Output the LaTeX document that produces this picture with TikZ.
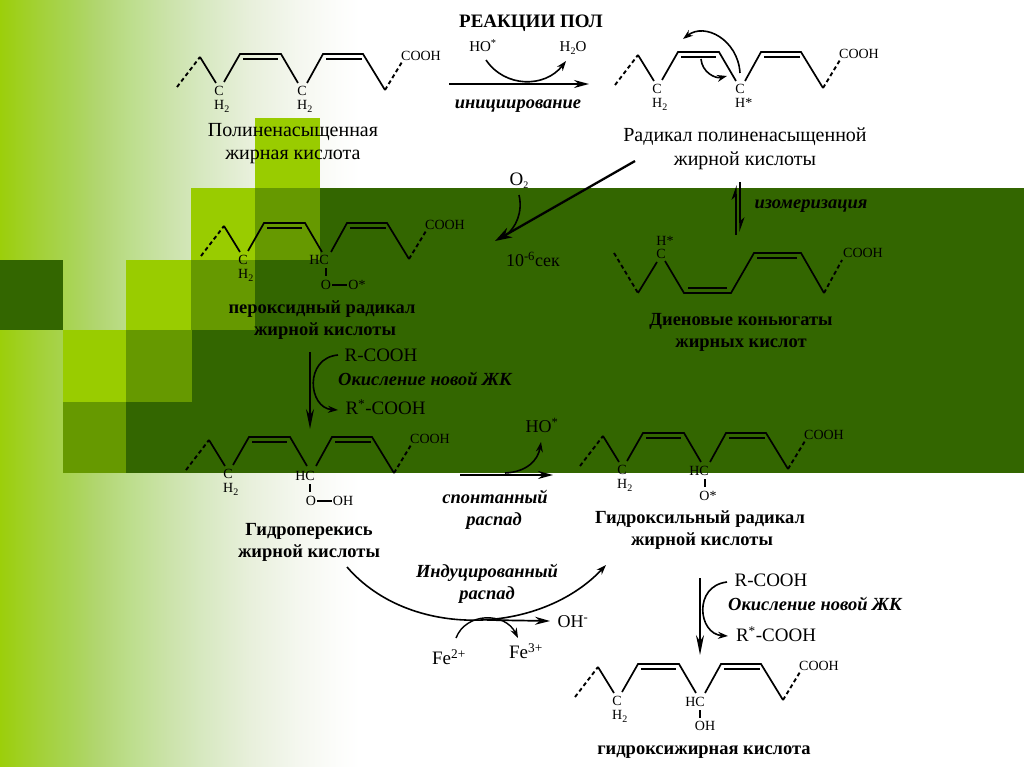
\documentclass[tikz,border=0pt]{standalone}
\usepackage{fontspec}
\setmainfont{Liberation Serif}
\usetikzlibrary{arrows.meta}
\definecolor{lime}{HTML}{99CC00}
\definecolor{midg}{HTML}{669900}
\definecolor{darkg}{HTML}{336600}
\pgfdeclarehorizontalshading{bgfade}{100bp}{%
 rgb(0bp)=(0.61,0.81,0.04);
 rgb(25bp)=(0.61,0.81,0.04);
 rgb(30.56bp)=(0.64,0.82,0.22);
 rgb(34.72bp)=(0.66,0.83,0.33);
 rgb(38.89bp)=(0.70,0.84,0.45);
 rgb(43.06bp)=(0.74,0.87,0.55);
 rgb(48.61bp)=(0.80,0.89,0.67);
 rgb(52.78bp)=(0.84,0.91,0.75);
 rgb(59.72bp)=(0.91,0.94,0.86);
 rgb(66.67bp)=(0.96,0.97,0.94);
 rgb(72.22bp)=(0.99,0.993,0.985);
 rgb(75bp)=(1,1,1);
 rgb(100bp)=(1,1,1)}
\newcommand{\sbs}[1]{\raisebox{-3pt}{\fontsize{10}{10}\selectfont #1}}
\tikzset{
 lab/.style={inner sep=0pt,font=\fontsize{#1}{#1}\selectfont,text height={#1*0.66pt},text depth=0pt},
 lab/.default=14,
 rm/.style={inner sep=0pt,font=\fontsize{#1}{#1}\selectfont,text height={#1*0.78pt},text depth={#1*0.1pt}},
 bd/.style={inner sep=0pt,font=\fontsize{#1}{#1}\selectfont\bfseries,text height={#1*0.78pt},text depth={#1*0.1pt}},
 it/.style={inner sep=0pt,font=\fontsize{#1}{#1}\selectfont\bfseries\itshape,text height={#1*0.78pt},text depth={#1*0.1pt}},
 bond/.style={line width=1.7pt,line join=miter},
 inner bond/.style={line width=1.4pt},
 tail/.style={line width=1.9pt,dash pattern=on 4pt off 3pt},
 short/.style={line width=1.2pt,shorten >=1pt,shorten <=1pt},
 rxn/.style={line width=1.7pt,-{Stealth[length=15pt,width=8pt]}},
 curv/.style={line width=1.6pt,-{Stealth[length=10pt,width=7pt]}},
}
\newcommand{\fattychain}[3]{%
 \begin{scope}[shift={(#2,#3)}]
  \coordinate (#1s) at (-23,30);
  \coordinate (#1a) at (0,0);
  \coordinate (#1b) at (16,26);
  \coordinate (#1c) at (24,25);
  \coordinate (#1d) at (40,-3);
  \coordinate (#1e) at (81,-3);
  \coordinate (#1f) at (98,26);
  \coordinate (#1g) at (107,26);
  \coordinate (#1h) at (123,-3);
  \coordinate (#1i) at (163,-3);
  \coordinate (#1j) at (185,33);
  \coordinate (#1k) at (202,5);
  \coordinate (#1m) at (43,2);
  \coordinate (#1n) at (78,2);
  \coordinate (#1o) at (126,2);
  \coordinate (#1q) at (162,2);
  \draw[tail] (#1s) -- (#1a);
  \draw[bond] (#1a) -- (#1b);
  \draw[bond] (#1c) -- (#1d) -- (#1e) -- (#1f);
  \draw[bond] (#1g) -- (#1h) -- (#1i) -- (#1j);
  \draw[tail] (#1j) -- (#1k);
  \draw[inner bond] (#1m) -- (#1n);
  \draw[inner bond] (#1o) -- (#1q);
  \node[lab] (#1cooh) at (221,-1) {COOH};
  \node[lab] (#1c1) at (19,34) {C};
  \node[lab,anchor=west] (#1h1) at (14,48) {H\sbs{2}};
 \end{scope}}
\begin{document}
\begin{tikzpicture}[x=1pt,y=-1pt]
\useasboundingbox (0,0) rectangle (1024,767);
% background
\fill[white] (0,0) rectangle (1024,767);
\shade[shading=bgfade] (0,0) rectangle (360,767);
\fill[lime] (255,118) rectangle (320,188);
\fill[lime] (191,188) rectangle (255,260);
\fill[midg] (255,188) rectangle (320,260);
\fill[darkg] (320,188) rectangle (1024,473);
\fill[darkg] (0,260) rectangle (63,330);
\fill[lime] (126,260) rectangle (191,330);
\fill[midg] (191,260) rectangle (255,330);
\fill[darkg] (255,260) rectangle (320.5,330);
\fill[lime] (63,330) rectangle (126,402);
\fill[midg] (126,330) rectangle (192,402);
\fill[darkg] (192,330) rectangle (320.5,402);
\fill[midg] (63,402) rectangle (126,473);
\fill[darkg] (126,402) rectangle (320.5,473);
% title
\node[bd=19] (title) at (531,21) {РЕАКЦИИ ПОЛ};
% molecule 1
\fattychain{A}{200}{57}
\node[lab] (A2) at (302,91) {C};
\node[lab,anchor=west] (A3) at (297,105) {H\sbs{2}};
\node[rm=20] (An1) at (293,130) {Полиненасыщенная};
\node[rm=20] (An2) at (293,153) {жирная кислота};
% initiation
\node[lab=15] (ho1) at (483,47) {HO\textsuperscript{*}};
\node[lab=15] (hho) at (573,47) {H\sbs{2}O};
\coordinate (i1) at (449,84);
\coordinate (i2) at (589,84);
\draw[rxn] (i1) -- (i2);
\coordinate (c1a) at (486,60);
\coordinate (c1b) at (566,61);
\coordinate (c1c) at (505,88);
\coordinate (c1d) at (545,88);
\draw[curv] (c1a) .. controls (c1c) and (c1d) .. (c1b);
\node[it=18.5] (init) at (518,102) {инициирование};
% molecule 2
\fattychain{B}{638}{55}
\node[lab] (B2) at (740,89) {C};
\node[lab,anchor=west] (B3) at (735,103) {H*};
\coordinate (b1) at (740,73);
\coordinate (b2) at (683,39);
\coordinate (b3) at (738,40);
\coordinate (b4) at (705,22);
\draw[curv] (b1) .. controls (b3) and (b4) .. (b2);
\coordinate (b5) at (701,59);
\coordinate (b6) at (727,76);
\coordinate (b7) at (702,72);
\coordinate (b8) at (715,79);
\draw[curv] (b5) .. controls (b7) and (b8) .. (b6);
\node[rm=20] (Bn1) at (745,135) {Радикал полиненасыщенной};
\node[rm=20] (Bn2) at (745,159) {жирной кислоты};
% to molecule 3
\coordinate (l1) at (635,161);
\coordinate (l2) at (495,241);
\draw[line width=2.3pt,-{Stealth[length=17pt,width=11pt]}] (l1) -- (l2);
\node[lab=19] (o2) at (519,179) {O\sbs{2}};
\coordinate (q1) at (519,195);
\coordinate (q2) at (505,236);
\coordinate (q3) at (523,212);
\coordinate (q4) at (516,228);
\draw[line width=1.6pt] (q1) .. controls (q3) and (q4) .. (q2);
\node[lab=18] (sec) at (533,261) {10\textsuperscript{-6}сек};
% isomerisation
\coordinate (e1) at (736,235);
\coordinate (e2) at (736,185);
\coordinate (e3) at (740,182);
\coordinate (e4) at (740,232);
\draw[line width=1.3pt,-{Stealth[left,length=13pt,width=9pt]}] (e1) -- (e2);
\draw[line width=1.3pt,-{Stealth[left,length=13pt,width=9pt]}] (e3) -- (e4);
\node[it=18.5] (iso) at (811,202) {изомеризация};
% diene
\coordinate (Da) at (614,253);
\coordinate (Db) at (638,293);
\coordinate (Dc) at (657,262);
\coordinate (Dd) at (665,261);
\coordinate (De) at (684,293);
\coordinate (Df) at (731,293);
\coordinate (Dg) at (754,253);
\coordinate (Dh) at (801,253);
\coordinate (Di) at (824,293);
\coordinate (Dj) at (842,260);
\coordinate (Dk) at (688,288);
\coordinate (Dl) at (727,288);
\coordinate (Dm) at (757,258);
\coordinate (Dn) at (797,258);
\draw[tail] (Da) -- (Db);
\draw[bond] (Db) -- (Dc);
\draw[bond] (Dd) -- (De) -- (Df) -- (Dg) -- (Dh) -- (Di);
\draw[tail] (Di) -- (Dj);
\draw[inner bond] (Dk) -- (Dl);
\draw[inner bond] (Dm) -- (Dn);
\node[lab] (Dc1) at (661,254) {C};
\node[lab] (Dh1) at (665,241) {H*};
\node[lab] (Dcooh) at (863,253) {COOH};
\node[bd=18.5] (Dn1) at (741,319) {Диеновые коньюгаты};
\node[bd=18.5] (Dn2) at (741,341) {жирных кислот};
% molecule 3
\fattychain{C}{224}{226}
\node[lab] (C2) at (319,260) {HC};
\node[lab] (C3) at (326,285) {O};
\node[lab] (C4) at (357,285) {O*};
\coordinate (Cv1) at (326,267);
\coordinate (Cv2) at (326,277);
\draw[short] (Cv1) -- (Cv2);
\draw[short] (C3) -- (C4);
\node[bd=18.5] (Cn1) at (322,307) {пероксидный радикал};
\node[bd=18.5] (Cn2) at (325,329) {жирной кислоты};
% step to hydroperoxide
\coordinate (v1) at (310,352);
\coordinate (v2) at (310,429);
\draw[rxn,-{Stealth[length=20pt,width=8pt]}] (v1) -- (v2);
\node[lab=19] (R1) at (381,355) {R-COOH};
\node[it=18.5] (ox1) at (425,379) {Окисление новой ЖК};
\node[lab=19] (R2) at (385.5,408) {R\textsuperscript{*}-COOH};
\coordinate (w1) at (338,355);
\coordinate (w2) at (338,410);
\coordinate (w3) at (304,358);
\coordinate (w4) at (308,408);
\draw[curv] (w1) .. controls (w3) and (w4) .. (w2);
% molecule 4
\fattychain{E}{209}{440}
\node[lab] (E2) at (305,476) {HC};
\node[lab] (E3) at (311,501) {O};
\node[lab] (E4) at (343,501) {OH};
\coordinate (Ev1) at (310,483);
\coordinate (Ev2) at (310,493);
\draw[short] (Ev1) -- (Ev2);
\draw[short] (E3) -- (E4);
\node[bd=18.5] (En1) at (309,529) {Гидроперекись};
\node[bd=18.5] (En2) at (309,551) {жирной кислоты};
% spontaneous
\coordinate (s1) at (460,475);
\coordinate (s2) at (553,475);
\draw[rxn] (s1) -- (s2);
\node[lab=18] (ho2) at (542,427) {HO\textsuperscript{*}};
\coordinate (s3) at (505,473);
\coordinate (s4) at (541,442);
\coordinate (s5) at (527,472);
\coordinate (s6) at (538,460);
\draw[curv] (s3) .. controls (s5) and (s6) .. (s4);
\node[it=18.5] (sp1) at (495,497) {спонтанный};
\node[it=18.5] (sp2) at (494,519) {распад};
% molecule 5
\fattychain{F}{603}{436}
\node[lab] (F2) at (699,471) {HC};
\node[lab] (F3) at (708,496) {O*};
\coordinate (Fv1) at (705,478);
\coordinate (Fv2) at (705,488);
\draw[short] (Fv1) -- (Fv2);
\node[bd=18.5] (Fn1) at (700,517) {Гидроксильный радикал};
\node[bd=18.5] (Fn2) at (702,539) {жирной кислоты};
% induced decay
\coordinate (d1) at (347,567);
\coordinate (d2) at (606,565);
\coordinate (d3) at (410,640);
\coordinate (d4) at (540,635);
\draw[curv] (d1) .. controls (d3) and (d4) .. (d2);
\node[it=18.5] (ind1) at (487,571) {Индуцированный};
\node[it=18.5] (ind2) at (487,593) {распад};
\coordinate (g1) at (487,620);
\coordinate (g2) at (550,621);
\draw[rxn] (g1) -- (g2);
\node[lab=18] (oh) at (573,622) {OH\textsuperscript{-}};
\node[lab=19] (fe2) at (449,658) {Fe\textsuperscript{2+}};
\node[lab=19] (fe3) at (526,652) {Fe\textsuperscript{3+}};
\coordinate (g3) at (456,638);
\coordinate (g4) at (518,638);
\coordinate (g5) at (466,612);
\coordinate (g6) at (505,612);
\draw[curv,line width=1.4pt] (g3) .. controls (g5) and (g6) .. (g4);
% step to final
\coordinate (h1) at (700,578);
\coordinate (h2) at (700,655);
\draw[rxn,-{Stealth[length=20pt,width=8pt]}] (h1) -- (h2);
\node[lab=19] (R3) at (771,580) {R-COOH};
\node[it=18.5] (ox2) at (815,604) {Окисление новой ЖК};
\node[lab=19] (R4) at (776,635) {R\textsuperscript{*}-COOH};
\coordinate (h3) at (727,582);
\coordinate (h4) at (728,636);
\coordinate (h5) at (693,586);
\coordinate (h6) at (698,634);
\draw[curv] (h3) .. controls (h5) and (h6) .. (h4);
% molecule 6
\fattychain{H}{598}{667}
\node[lab] (H2) at (695,702) {HC};
\node[lab] (H3) at (705,726) {OH};
\coordinate (Hv1) at (700,709);
\coordinate (Hv2) at (700,719);
\draw[short] (Hv1) -- (Hv2);
\node[bd=18.5] (Hn1) at (704,748) {гидроксижирная кислота};
\end{tikzpicture}
\end{document}
